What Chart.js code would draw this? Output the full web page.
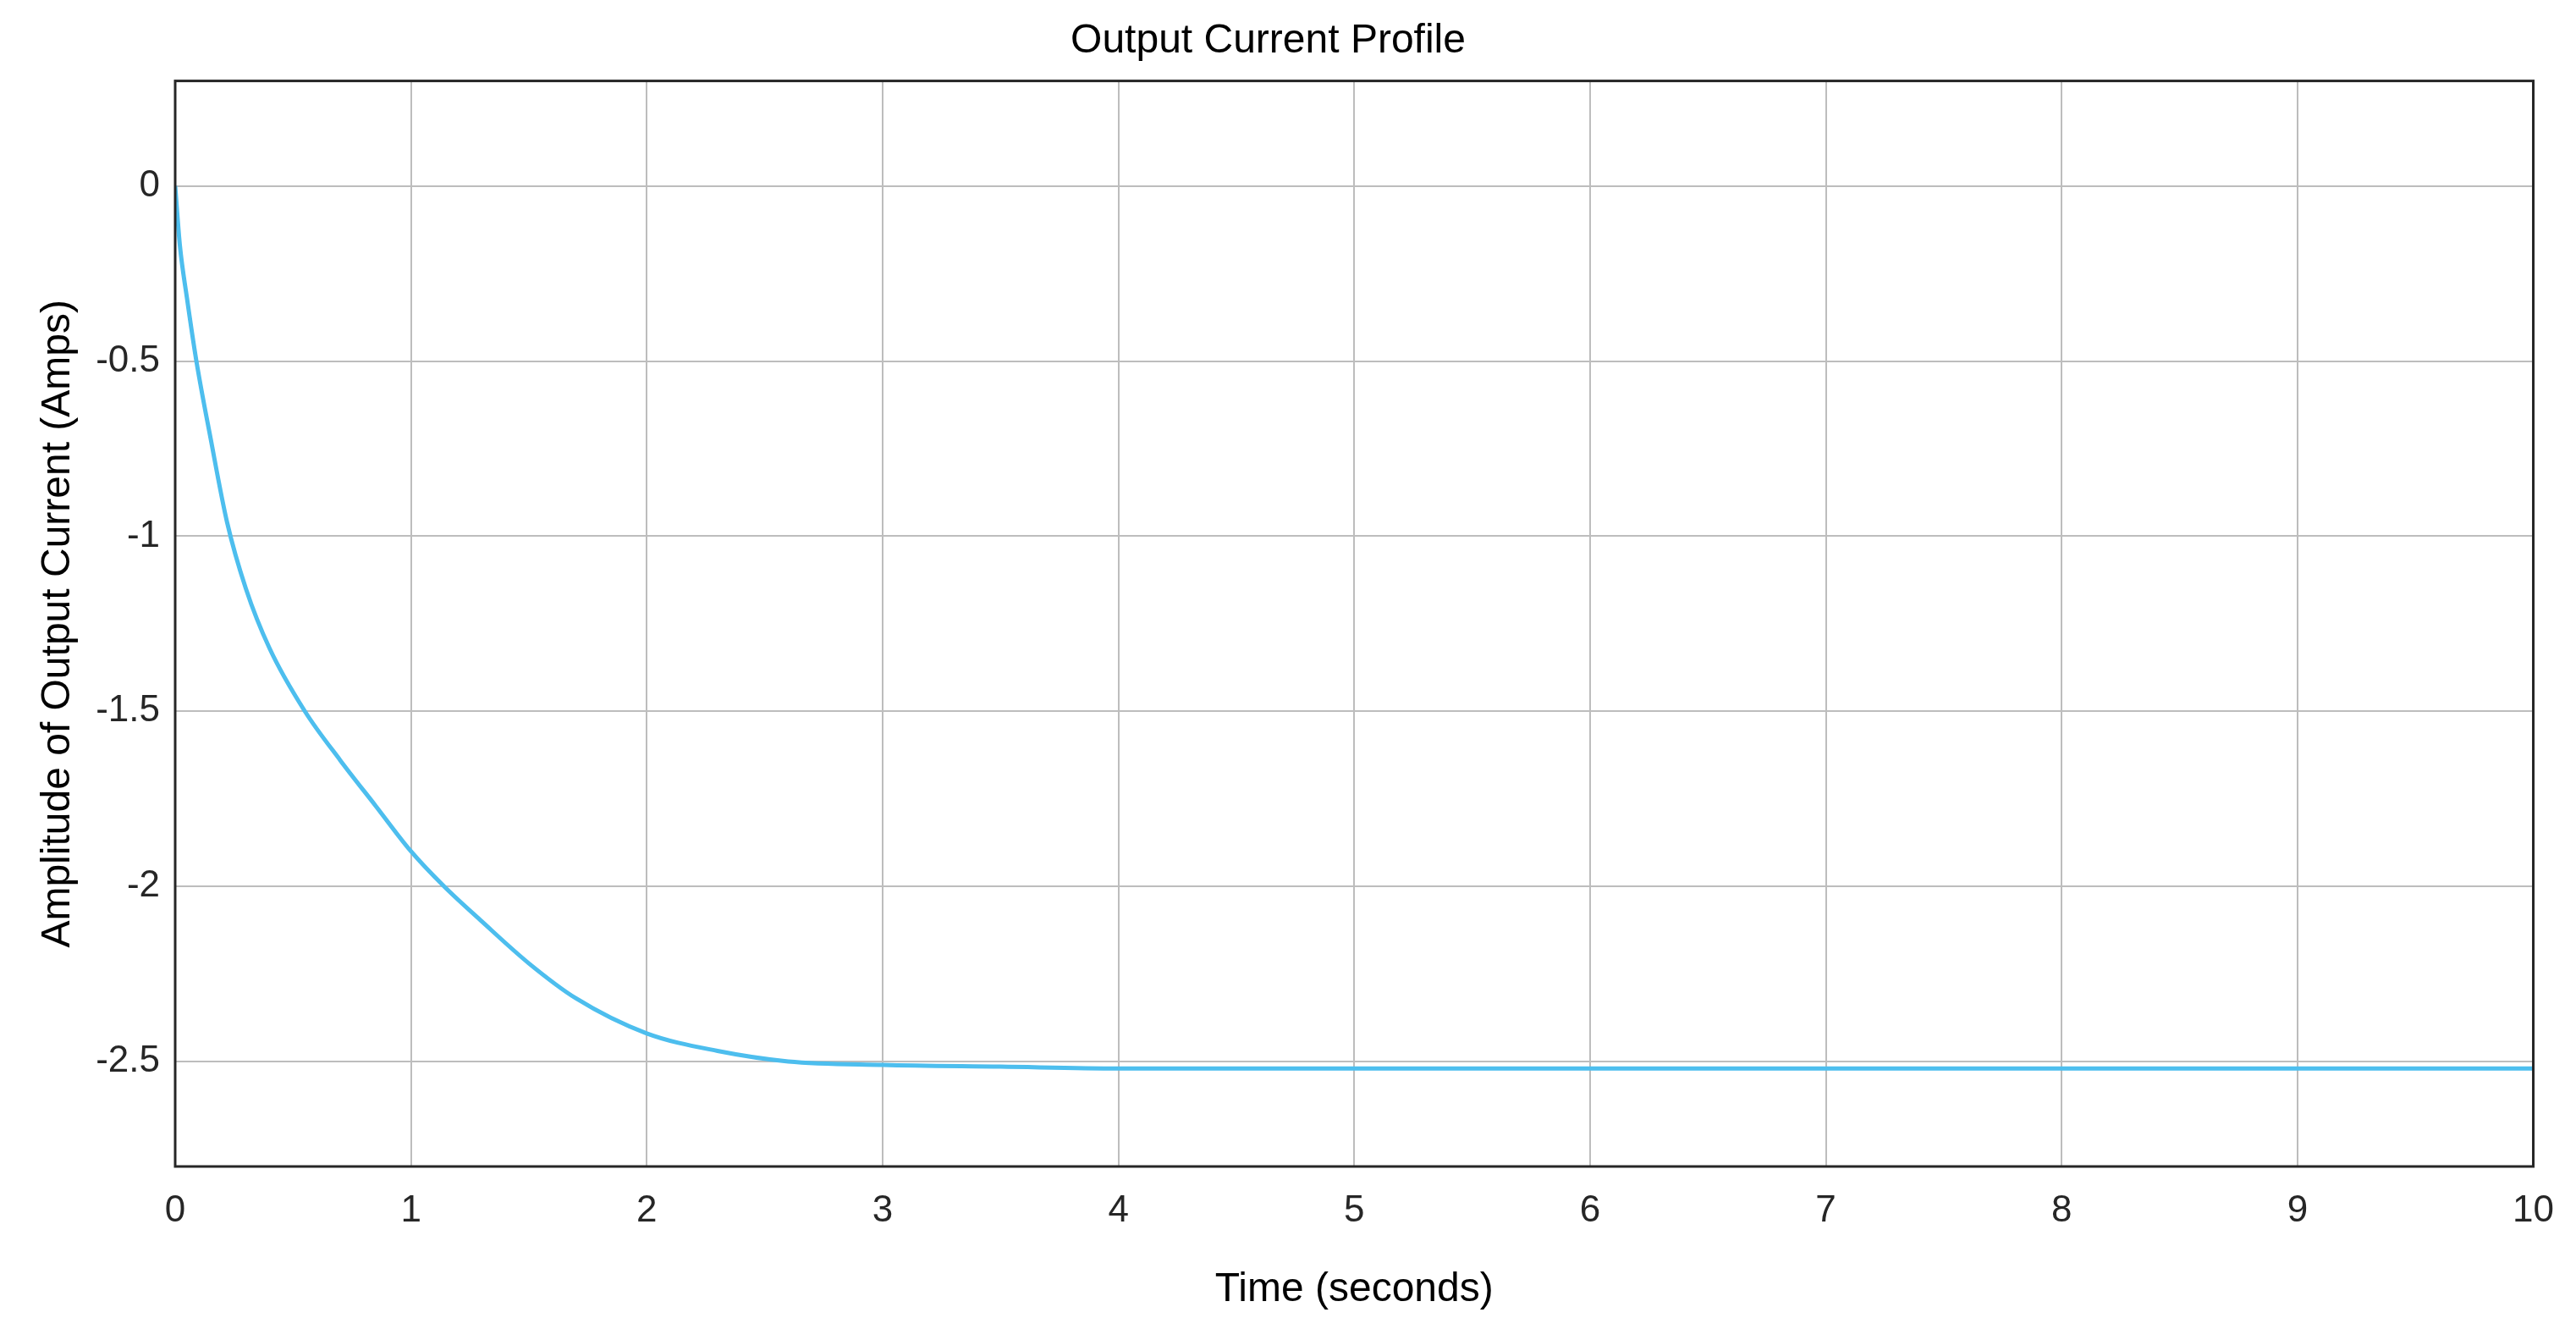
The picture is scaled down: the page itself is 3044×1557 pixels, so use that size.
<!DOCTYPE html>
<html><head><meta charset="utf-8">
<script src="https://cdn.jsdelivr.net/npm/chart.js@4/dist/chart.umd.min.js"></script>
<style>html,body{margin:0;padding:0;background:#fff}#w{width:3044px;height:1557px}</style>
</head><body><div id="w"><canvas id="c"></canvas></div>
<script>
const timeSeconds = [0,0.02,0.05,0.09,0.15,0.22,0.3,0.4,0.55,0.7,0.85,1.0,1.14,1.3,1.5,1.7,2.0,2.3,2.6,3.0,3.5,4,5,6,7,8,9,10];
const outputCurrent = [0,-0.17,-0.32,-0.5,-0.72,-0.96,-1.15,-1.32,-1.5,-1.64,-1.77,-1.9,-2.0,-2.1,-2.22,-2.32,-2.42,-2.47,-2.5,-2.51,-2.515,-2.52,-2.52,-2.52,-2.52,-2.52,-2.52,-2.52];
const xTicks = [0,1,2,3,4,5,6,7,8,9,10];
const yTicks = [0,-0.5,-1,-1.5,-2,-2.5];
const F = "'Liberation Sans Narrow','Liberation Sans',Arial,sans-serif";
const box = {id:'box',afterDraw(ch){const a=ch.chartArea,c=ch.ctx;c.save();c.strokeStyle='#262626';c.lineWidth=3;c.strokeRect(a.left,a.top,a.right-a.left,a.bottom-a.top);c.restore();}};
new Chart(document.getElementById('c'),{
 type:'line',
 data:{datasets:[{data:timeSeconds.map((t,i)=>({x:t,y:outputCurrent[i]})),borderColor:'#4DBEEE',borderWidth:5,pointRadius:0,cubicInterpolationMode:'monotone',fill:false}]},
 options:{responsive:true,maintainAspectRatio:false,animation:false,
  layout:{padding:{top:0,right:47,left:0,bottom:0}},
  plugins:{legend:{display:false},tooltip:{enabled:false},
   title:{display:true,text:'Output Current Profile',color:'#000',font:{family:F,size:48,weight:'normal'},padding:{top:20,bottom:18}}},
  scales:{
   x:{type:'linear',min:0,max:10,afterBuildTicks(s){s.ticks=xTicks.map(v=>({value:v}));},
      afterFit(s){s.height=179;},
      grid:{color:'#bdbdbd',lineWidth:2,drawTicks:false},border:{display:false},
      ticks:{color:'#262626',font:{family:F,size:44},padding:26,callback:v=>String(v)},
      title:{display:true,text:'Time (seconds)',color:'#000',font:{family:F,size:48},padding:{top:4}}},
   y:{type:'linear',min:-2.8,max:0.3,afterBuildTicks(s){s.ticks=yTicks.map(v=>({value:v}));},
      afterFit(s){s.width=207;},
      grid:{color:'#bdbdbd',lineWidth:2,drawTicks:false},border:{display:false},
      ticks:{color:'#262626',font:{family:F,size:44},padding:18,callback:v=>String(v)},
      title:{display:true,text:'Amplitude of Output Current (Amps)',color:'#000',font:{family:"'Liberation Sans',Arial,sans-serif",size:48},padding:{top:40,bottom:4}}}
  }},
 plugins:[box]
});
</script></body></html>
